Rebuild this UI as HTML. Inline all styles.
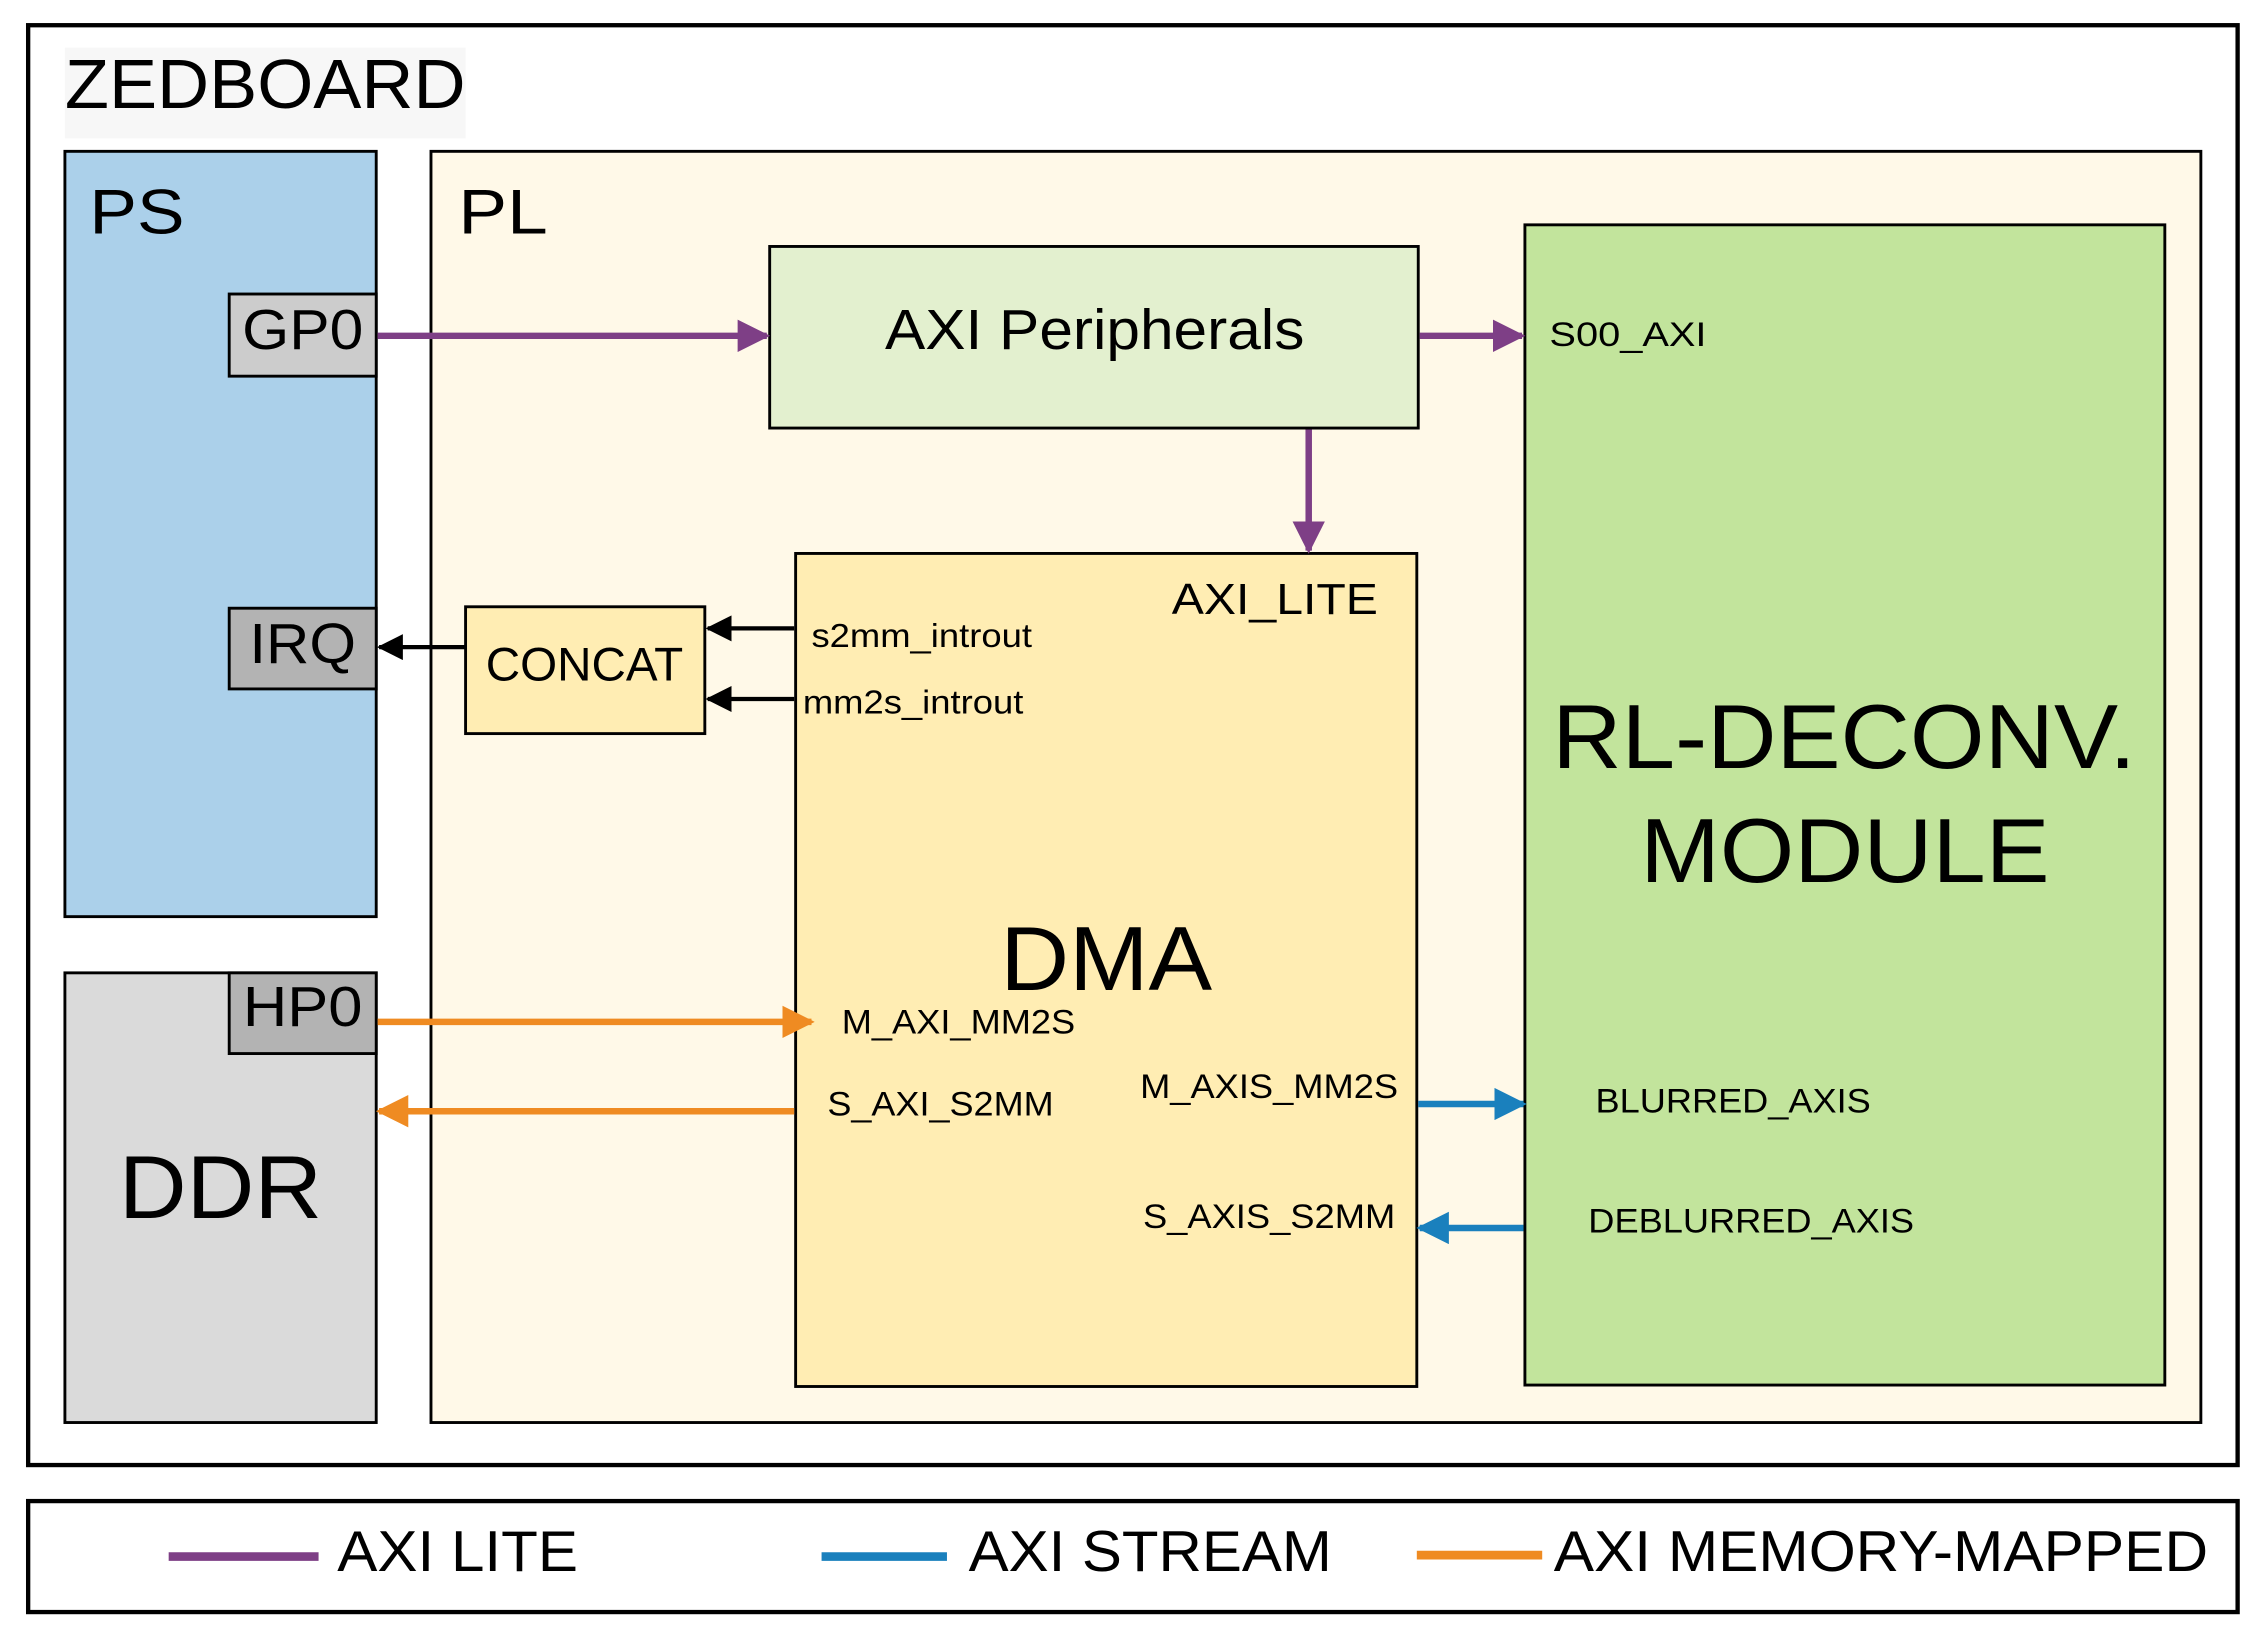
<!DOCTYPE html>
<html><head><meta charset="utf-8"><style>html,body{margin:0;padding:0;background:#fff}svg{display:block}</style></head>
<body>
<svg width="2260" height="1638" viewBox="0 0 1568 1136.5" xmlns="http://www.w3.org/2000/svg" font-family="Liberation Sans, Arial, sans-serif">
<defs>
<marker id="ap" markerWidth="5" markerHeight="5" refX="4.5" refY="2.5" orient="auto" markerUnits="strokeWidth"><path d="M0,0 L5,2.5 L0,5 z" fill="#7e3f86"/></marker>
<marker id="ao" markerWidth="5" markerHeight="5" refX="4.5" refY="2.5" orient="auto" markerUnits="strokeWidth"><path d="M0,0 L5,2.5 L0,5 z" fill="#ef8b22"/></marker>
<marker id="ab" markerWidth="5" markerHeight="5" refX="4.5" refY="2.5" orient="auto" markerUnits="strokeWidth"><path d="M0,0 L5,2.5 L0,5 z" fill="#1a80bd"/></marker>
<marker id="ak" markerWidth="6" markerHeight="6" refX="5.5" refY="3" orient="auto" markerUnits="strokeWidth"><path d="M0,0 L6,3 L0,6 z" fill="#000"/></marker>
</defs>
<rect x="0" y="0" width="1568" height="1137" fill="#fff"/>
<rect x="19.5" y="17.5" width="1533" height="999" fill="#fff" stroke="#000" stroke-width="3"/>
<rect x="45" y="33" width="278" height="63" fill="#f7f7f7"/>
<text x="45" y="75" font-size="48" textLength="278" lengthAdjust="spacingAndGlyphs">ZEDBOARD</text>

<rect x="45" y="105" width="216" height="531" fill="#abd0ea" stroke="#000" stroke-width="2"/>
<text x="62" y="162" font-size="44" textLength="66" lengthAdjust="spacingAndGlyphs">PS</text>
<rect x="159" y="204" width="102" height="57" fill="#cccccc" stroke="#000" stroke-width="2"/>
<text x="210" y="242" font-size="39" text-anchor="middle" textLength="84" lengthAdjust="spacingAndGlyphs">GP0</text>
<rect x="159" y="422" width="102" height="56" fill="#b3b3b3" stroke="#000" stroke-width="2"/>
<text x="210" y="460" font-size="39" text-anchor="middle" textLength="74" lengthAdjust="spacingAndGlyphs">IRQ</text>

<rect x="45" y="675" width="216" height="312" fill="#dadada" stroke="#000" stroke-width="2"/>
<rect x="159" y="675" width="102" height="56" fill="#b3b3b3" stroke="#000" stroke-width="2"/>
<text x="210" y="712" font-size="39" text-anchor="middle" textLength="83" lengthAdjust="spacingAndGlyphs">HP0</text>
<text x="153" y="845" font-size="62" text-anchor="middle" textLength="141" lengthAdjust="spacingAndGlyphs">DDR</text>

<rect x="299" y="105" width="1228" height="882" fill="#fff9e8" stroke="#000" stroke-width="2"/>
<text x="318" y="162" font-size="44" textLength="62" lengthAdjust="spacingAndGlyphs">PL</text>

<rect x="534" y="171" width="450" height="126" fill="#e3f0cf" stroke="#000" stroke-width="2"/>
<text x="759.5" y="242" font-size="39" text-anchor="middle" textLength="291" lengthAdjust="spacingAndGlyphs">AXI Peripherals</text>

<rect x="1058" y="156" width="444" height="805" fill="#c2e49c" stroke="#000" stroke-width="2"/>
<text x="1279.5" y="533" font-size="63" text-anchor="middle" textLength="405" lengthAdjust="spacingAndGlyphs">RL-DECONV.</text>
<text x="1280" y="612" font-size="63" text-anchor="middle" textLength="284" lengthAdjust="spacingAndGlyphs">MODULE</text>
<text x="1075" y="240" font-size="24" textLength="109" lengthAdjust="spacingAndGlyphs">S00_AXI</text>
<text x="1107" y="772" font-size="24" textLength="191" lengthAdjust="spacingAndGlyphs">BLURRED_AXIS</text>
<text x="1102" y="855" font-size="24" textLength="226" lengthAdjust="spacingAndGlyphs">DEBLURRED_AXIS</text>

<rect x="552" y="384" width="431" height="578" fill="#ffedb3" stroke="#000" stroke-width="2"/>
<text x="767.5" y="687" font-size="63" text-anchor="middle" textLength="147" lengthAdjust="spacingAndGlyphs">DMA</text>
<text x="813" y="426" font-size="30" textLength="143" lengthAdjust="spacingAndGlyphs">AXI_LITE</text>
<text x="563" y="449" font-size="23" textLength="153" lengthAdjust="spacingAndGlyphs">s2mm_introut</text>
<text x="557" y="495" font-size="23" textLength="153" lengthAdjust="spacingAndGlyphs">mm2s_introut</text>
<text x="584" y="717" font-size="24" textLength="162" lengthAdjust="spacingAndGlyphs">M_AXI_MM2S</text>
<text x="574" y="774" font-size="24" textLength="157" lengthAdjust="spacingAndGlyphs">S_AXI_S2MM</text>
<text x="791" y="762" font-size="24" textLength="179" lengthAdjust="spacingAndGlyphs">M_AXIS_MM2S</text>
<text x="793" y="852" font-size="24" textLength="175" lengthAdjust="spacingAndGlyphs">S_AXIS_S2MM</text>

<rect x="323" y="421" width="166" height="88" fill="#ffedb3" stroke="#000" stroke-width="2"/>
<text x="405.5" y="472" font-size="33" text-anchor="middle" textLength="137" lengthAdjust="spacingAndGlyphs">CONCAT</text>

<line x1="262" y1="233" x2="532" y2="233" stroke="#7e3f86" stroke-width="4.5" marker-end="url(#ap)"/>
<line x1="985" y1="233" x2="1056" y2="233" stroke="#7e3f86" stroke-width="4.5" marker-end="url(#ap)"/>
<line x1="908" y1="298" x2="908" y2="382" stroke="#7e3f86" stroke-width="4.5" marker-end="url(#ap)"/>

<line x1="323" y1="449" x2="263" y2="449" stroke="#000" stroke-width="3" marker-end="url(#ak)"/>
<line x1="551" y1="436" x2="491" y2="436" stroke="#000" stroke-width="3" marker-end="url(#ak)"/>
<line x1="551" y1="485" x2="491" y2="485" stroke="#000" stroke-width="3" marker-end="url(#ak)"/>

<line x1="262" y1="709" x2="563" y2="709" stroke="#ef8b22" stroke-width="4.5" marker-end="url(#ao)"/>
<line x1="551" y1="771" x2="263" y2="771" stroke="#ef8b22" stroke-width="4.5" marker-end="url(#ao)"/>

<line x1="984" y1="766" x2="1057" y2="766" stroke="#1a80bd" stroke-width="4.5" marker-end="url(#ab)"/>
<line x1="1057" y1="852" x2="985" y2="852" stroke="#1a80bd" stroke-width="4.5" marker-end="url(#ab)"/>

<rect x="19.5" y="1041.5" width="1533" height="77" fill="#fff" stroke="#000" stroke-width="3"/>
<line x1="117" y1="1080" x2="221" y2="1080" stroke="#7e3f86" stroke-width="6"/>
<text x="234" y="1090" font-size="40" textLength="167" lengthAdjust="spacingAndGlyphs">AXI LITE</text>
<line x1="570" y1="1080" x2="657" y2="1080" stroke="#1a80bd" stroke-width="6"/>
<text x="672" y="1090" font-size="40" textLength="252" lengthAdjust="spacingAndGlyphs">AXI STREAM</text>
<line x1="983" y1="1079" x2="1070" y2="1079" stroke="#ef8b22" stroke-width="6"/>
<text x="1078" y="1090" font-size="40" textLength="454" lengthAdjust="spacingAndGlyphs">AXI MEMORY-MAPPED</text>
</svg>
</body></html>
